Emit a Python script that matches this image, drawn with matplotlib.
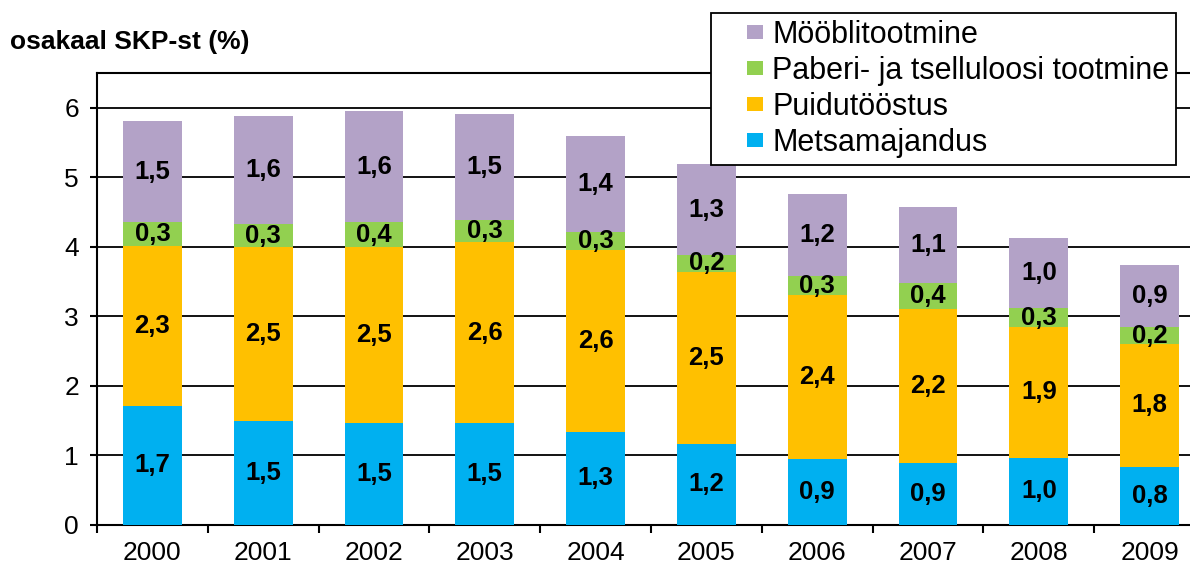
import numpy as np
import matplotlib
matplotlib.use('Agg')
import matplotlib.pyplot as plt
from matplotlib.patches import Patch, Rectangle
from matplotlib.legend_handler import HandlerPatch

plt.rcParams['font.family'] = ['Liberation Sans', 'DejaVu Sans']

# data (shares of GDP, %)
years = ['2000', '2001', '2002', '2003', '2004', '2005', '2006', '2007', '2008', '2009']
metsamajandus = [1.70, 1.49, 1.465, 1.46, 1.325, 1.16, 0.945, 0.88, 0.96, 0.83]
puidutoostus = [2.31, 2.50, 2.525, 2.60, 2.625, 2.48, 2.36, 2.225, 1.89, 1.77]
paber = [0.34, 0.33, 0.36, 0.33, 0.26, 0.235, 0.27, 0.375, 0.26, 0.24]
mooobel = [1.46, 1.56, 1.60, 1.515, 1.38, 1.315, 1.18, 1.09, 1.02, 0.90]

series = [
    ('Metsamajandus', metsamajandus, '#00B0F0'),
    ('Puidutööstus', puidutoostus, '#FFC000'),
    ('Paberi- ja tselluloosi tootmine', paber, '#92D050'),
    ('Mööblitootmine', mooobel, '#B3A2C7'),
]

fig = plt.figure(figsize=(11.9, 5.68), dpi=100)
ax = fig.add_axes([97 / 1190, 43.5 / 568, 1108 / 1190, 451.5 / 568])

x = np.arange(len(years))
bottom = np.zeros(len(years))
for name, vals, col in series:
    vals = np.array(vals)
    ax.bar(x, vals, 0.53, bottom=bottom, color=col, zorder=3)
    for xi, b, v in zip(x, bottom, vals):
        ax.text(xi, b + v / 2, f'{v:.1f}'.replace('.', ','), ha='center', va='center',
                fontsize=18.5, fontweight='bold', zorder=4)
    bottom += vals

ax.set_xlim(-0.5, len(years) - 0.5)
ax.set_ylim(0, 6.5)
ax.set_yticks(range(0, 7))
ax.set_yticklabels([str(i) for i in range(0, 7)])
ax.set_xticks(x)
ax.set_xticklabels(years)
ax.set_xticks(np.arange(-0.5, len(years), 1), minor=True)
ax.tick_params(axis='x', which='major', length=0, pad=12, labelsize=19)
ax.tick_params(axis='x', which='minor', length=6, width=1.5, direction='out')
ax.tick_params(axis='y', length=5, width=1.5, pad=8, labelsize=19)

for y in range(1, 7):
    ax.axhline(y, color='black', linewidth=1.3, zorder=1)
for s in ax.spines.values():
    s.set_linewidth(1.5)

fig.text(10 / 1190, 1 - 42 / 568, 'osakaal SKP-st (%)', fontsize=19,
         fontweight='bold', va='center', ha='left')


# small square drawn at the right end of the handle box
def square(legend, orig_handle, xdescent, ydescent, width, height, fontsize):
    w = 11.5
    h = 10
    return Rectangle((width - w - xdescent, (height - h) / 2 - ydescent), w, h)


handles = [Patch(facecolor=c, label=n) for n, _, c in series][::-1]
leg = fig.legend(handles=handles, loc='upper left',
                 bbox_to_anchor=(711 / 1190, 1 - 13 / 568), fontsize=22,
                 frameon=True, fancybox=False, edgecolor='black', framealpha=1,
                 handlelength=1.47, handletextpad=0.32,
                 labelspacing=0.2, borderpad=0.22, borderaxespad=0,
                 handler_map={Patch: HandlerPatch(patch_func=square)})
leg.get_frame().set_linewidth(1.3)

fig.savefig('out.png', dpi=100)
